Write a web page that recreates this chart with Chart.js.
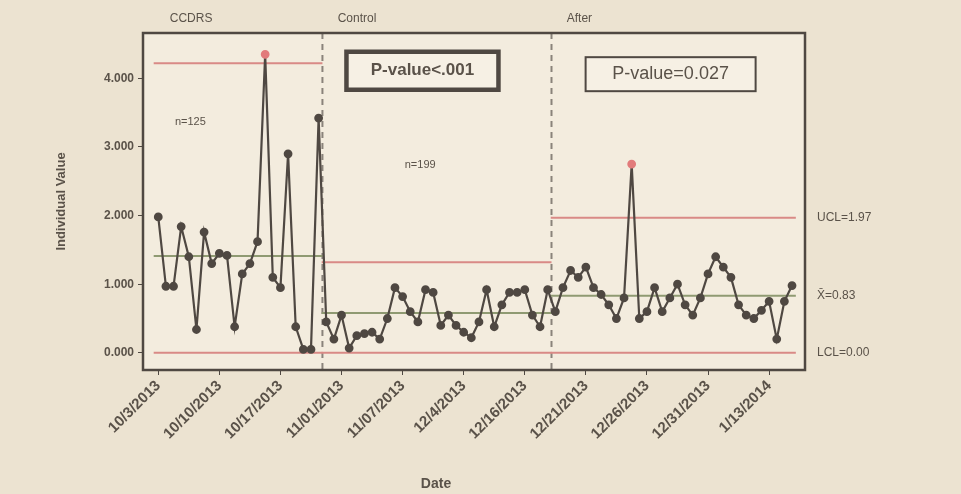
<!DOCTYPE html>
<html>
<head>
<meta charset="utf-8">
<title>I-chart by stage</title>
<script src="https://cdn.jsdelivr.net/npm/chart.js@4.4.0/dist/chart.umd.min.js"></script>
<style>
  html, body { margin: 0; padding: 0; background: #ece3d1; }
  #wrap { width: 961px; height: 494px; }
</style>
</head>
<body>
<div id="wrap"><canvas id="chart" width="961" height="494"></canvas></div>
<script>
// tick labels (one every 8 observations)
const dateLabels = ['10/3/2013', '10/10/2013', '10/17/2013', '11/01/2013', '11/07/2013', '12/4/2013',
                    '12/16/2013', '12/21/2013', '12/26/2013', '12/31/2013', '1/13/2014'];
const labelStep = 8;

// individual values
const stage1Values = [1.98, 0.97, 0.97, 1.84, 1.40, 0.34, 1.76, 1.30, 1.45, 1.42, 0.38,
                      1.15, 1.30, 1.62, 4.35, 1.10, 0.95, 2.90, 0.38, 0.05, 0.05, 3.42];
const stage2Values = [0.45, 0.20, 0.55, 0.07, 0.25, 0.28, 0.30, 0.20, 0.50, 0.95, 0.82,
                      0.60, 0.45, 0.92, 0.88, 0.40, 0.55, 0.40, 0.30, 0.22, 0.45, 0.92,
                      0.38, 0.70, 0.88, 0.88, 0.92, 0.55, 0.38, 0.92];
const stage3Values = [0.60, 0.95, 1.20, 1.10, 1.25, 0.95, 0.85, 0.70, 0.50, 0.80, 2.75,
                      0.50, 0.60, 0.95, 0.60, 0.80, 1.00, 0.70, 0.55, 0.80, 1.15, 1.40,
                      1.25, 1.10, 0.70, 0.55, 0.50, 0.62, 0.75, 0.20, 0.75, 0.98];

// stage names and control limits
const stageNames = ['CCDRS', 'Control', 'After'];
const stageUCL = [4.22, 1.32, 1.97];
const stageCL = [1.41, 0.58, 0.83];
const stageLCL = [0, 0, 0];
const stageCounts = ['n=125', 'n=199'];
const pValueTexts = ['P-value<.001', 'P-value=0.027'];
const yTicks = [0, 1, 2, 3, 4];

const inkColor = '#4f4842';
const textColor = '#5a5249';
const limitColor = '#d98a86';
const centerColor = '#8f9a72';
const outColor = '#e27b7b';
const fontFamily = '"Liberation Sans", Arial, sans-serif';

// build the point list and stage ranges
const stages = [stage1Values, stage2Values, stage3Values];
const points = [];
const stageRanges = [];
stages.forEach((vals, s) => {
    const start = points.length;
    vals.forEach(v => points.push({ x: points.length, y: v, stage: s }));
    stageRanges.push([start, points.length - 1]);
});

const pointColors = points.map(p => p.y > stageUCL[p.stage] ? outColor : inkColor);

function stageLine(s, value, color) {
    const r = stageRanges[s];
    return {
        data: [{ x: r[0] - 0.6, y: value }, { x: r[1] + 0.5, y: value }],
        borderColor: color,
        borderWidth: 2,
        pointRadius: 0,
        order: 2
    };
}

const datasets = [{
    data: points,
    borderColor: inkColor,
    borderWidth: 2.2,
    pointRadius: 3.3,
    pointBackgroundColor: pointColors,
    pointBorderColor: pointColors,
    order: 0
}];
stages.forEach((_, s) => {
    datasets.push(stageLine(s, stageUCL[s], limitColor));
    datasets.push(stageLine(s, stageLCL[s], limitColor));
    datasets.push(stageLine(s, stageCL[s], centerColor));
});

// frame, stage separators, stage texts and the right-side limit labels
const decor = {
    id: 'decor',
    beforeDraw(chart) {
        const { ctx, chartArea: a } = chart;
        ctx.save();
        ctx.fillStyle = '#ece3d1';
        ctx.fillRect(0, 0, chart.width, chart.height);
        ctx.fillStyle = '#f3ecde';
        ctx.fillRect(a.left, a.top, a.right - a.left, a.bottom - a.top);
        ctx.restore();
    },
    beforeDatasetsDraw(chart) {
        const { ctx, chartArea: a, scales: { x } } = chart;
        ctx.save();
        ctx.strokeStyle = '#8a837b';
        ctx.lineWidth = 2;
        ctx.setLineDash([6, 5]);
        for (let s = 1; s < stageRanges.length; s++) {
            const px = x.getPixelForValue(stageRanges[s][0] - 0.5);
            ctx.beginPath();
            ctx.moveTo(px, a.top);
            ctx.lineTo(px, a.bottom);
            ctx.stroke();
        }
        ctx.restore();
    },
    afterDraw(chart) {
        const { ctx, chartArea: a, scales: { x, y } } = chart;
        ctx.save();
        ctx.strokeStyle = inkColor;
        ctx.lineWidth = 2.5;
        ctx.strokeRect(a.left, a.top, a.right - a.left, a.bottom - a.top);

        ctx.fillStyle = textColor;
        ctx.textBaseline = 'middle';

        // stage names above the frame
        ctx.font = '12px ' + fontFamily;
        ctx.textAlign = 'left';
        stageNames.forEach((name, s) => {
            ctx.fillText(name, x.getPixelForValue(stageRanges[s][0] + 1.5), a.top - 14);
        });

        // n= labels
        ctx.font = '11px ' + fontFamily;
        ctx.textAlign = 'center';
        ctx.fillText(stageCounts[0], x.getPixelForValue(4.2), y.getPixelForValue(3.37));
        ctx.fillText(stageCounts[1], x.getPixelForValue(34.3), y.getPixelForValue(2.74));

        // p-value boxes
        const boxes = [
            { cx: 34.6, cy: 4.11, w: 152, h: 38, lw: 4.5, font: 'bold 17px ' },
            { cx: 67.1, cy: 4.06, w: 170, h: 34, lw: 2, font: '18px ' }
        ];
        boxes.forEach((b, i) => {
            const px = x.getPixelForValue(b.cx);
            const py = y.getPixelForValue(b.cy);
            ctx.fillStyle = '#f6f0e4';
            ctx.fillRect(px - b.w / 2, py - b.h / 2, b.w, b.h);
            ctx.lineWidth = b.lw;
            ctx.strokeStyle = inkColor;
            ctx.strokeRect(px - b.w / 2, py - b.h / 2, b.w, b.h);
            ctx.fillStyle = textColor;
            ctx.font = b.font + fontFamily;
            ctx.fillText(pValueTexts[i], px, py);
        });

        // labels for the last stage's limits
        const last = stageRanges.length - 1;
        ctx.font = '12px ' + fontFamily;
        ctx.textAlign = 'left';
        const lx = a.right + 12;
        ctx.fillText('UCL=' + stageUCL[last].toFixed(2), lx, y.getPixelForValue(stageUCL[last]));
        ctx.fillText('X\u0304=' + stageCL[last].toFixed(2), lx, y.getPixelForValue(stageCL[last]));
        ctx.fillText('LCL=' + stageLCL[last].toFixed(2), lx, y.getPixelForValue(stageLCL[last]));

        // x axis title, set left of centre as in the source
        ctx.font = 'bold 14px ' + fontFamily;
        ctx.textAlign = 'center';
        ctx.fillText('Date', 436, chart.height - 10);
        ctx.restore();
    }
};

const ctx = document.getElementById('chart').getContext('2d');
new Chart(ctx, {
    type: 'line',
    data: { datasets: datasets },
    options: {
        responsive: false,
        animation: false,
        devicePixelRatio: 1,
        layout: { padding: { top: 33, right: 156, left: 54, bottom: 0 } },
        plugins: { legend: { display: false }, tooltip: { enabled: false } },
        elements: { line: { tension: 0 } },
        scales: {
            x: {
                type: 'linear',
                min: -2,
                max: 84.7,
                afterFit: s => { s.height = 124; },
                afterBuildTicks: s => {
                    s.ticks = dateLabels.map((_, i) => ({ value: i * labelStep }));
                },
                ticks: {
                    autoSkip: false,
                    minRotation: 45,
                    maxRotation: 45,
                    padding: 2,
                    color: textColor,
                    font: { size: 15, weight: 'bold', family: fontFamily },
                    callback: v => dateLabels[v / labelStep]
                },
                grid: { display: true, drawOnChartArea: false, drawTicks: true, tickLength: 5, color: inkColor },
                border: { display: false }
            },
            y: {
                min: -0.25,
                max: 4.66,
                afterFit: s => { s.width = 89; },
                afterBuildTicks: s => {
                    s.ticks = yTicks.map(v => ({ value: v }));
                },
                ticks: {
                    color: textColor,
                    padding: 4,
                    font: { size: 12, weight: 'bold', family: fontFamily },
                    callback: v => v.toFixed(3)
                },
                grid: { display: true, drawOnChartArea: false, drawTicks: true, tickLength: 5, color: inkColor },
                border: { display: false },
                title: {
                    display: true,
                    text: 'Individual Value',
                    color: textColor,
                    font: { size: 13, weight: 'bold', family: fontFamily },
                    padding: { top: 0, bottom: 0 }
                }
            }
        }
    },
    plugins: [decor]
});
</script>
</body>
</html>
